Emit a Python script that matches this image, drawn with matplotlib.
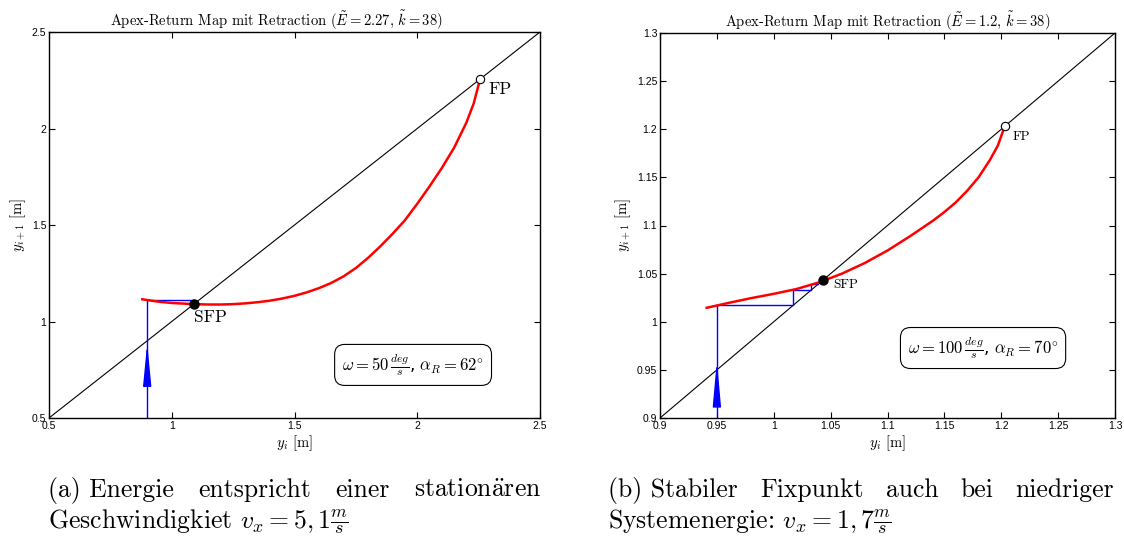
import matplotlib
matplotlib.use("Agg")
import matplotlib.pyplot as plt
from matplotlib.ticker import FuncFormatter

plt.rcParams['mathtext.fontset'] = 'cm'
plt.rcParams['axes.linewidth'] = 1.0

SERIF = ['cmr10', 'DejaVu Serif']
SANS = ['Liberation Sans', 'DejaVu Sans']

# ---- panel (a): E = 2.27 ----
a_x = [0.88, 0.95, 1.0, 1.09, 1.15, 1.2, 1.25, 1.3, 1.35, 1.4, 1.45, 1.5, 1.55, 1.6, 1.65,
       1.7, 1.75, 1.8, 1.85, 1.9, 1.95, 2.0, 2.05, 2.1, 2.15, 2.2, 2.23, 2.256]
a_y = [1.115, 1.102, 1.096, 1.09, 1.088, 1.088, 1.09, 1.094, 1.1, 1.108, 1.119, 1.133, 1.151,
       1.173, 1.2, 1.234, 1.277, 1.33, 1.39, 1.455, 1.525, 1.61, 1.70, 1.795, 1.90, 2.03, 2.13, 2.256]
a_sfp = (1.09, 1.09)
a_fp = (2.256, 2.256)
a_web_x = [0.9, 0.9, 1.09]
a_web_y = [0.5, 1.11, 1.11]
a_arrow = (0.9, 0.697, 0.889)       # x, base, tip
a_lim = (0.5, 2.5)
a_ticks = [0.5, 1.0, 1.5, 2.0, 2.5]
a_title = r'Apex-Return Map mit Retraction ($\tilde{E}=2.27$, $\tilde{k}=38$)'
a_box = r'$\omega=50\,\frac{deg}{s}$, $\alpha_R=62^{\circ}$'
a_box_pos = (1.983, 0.775)

# ---- panel (b): E = 1.2 ----
b_x = [0.941, 0.96, 0.98, 1.0, 1.02, 1.04, 1.06, 1.08, 1.1, 1.12, 1.14, 1.15, 1.16, 1.17,
       1.18, 1.19, 1.197, 1.203]
b_y = [1.0145, 1.0195, 1.0245, 1.029, 1.034, 1.041, 1.050, 1.061, 1.074, 1.089, 1.105, 1.114,
       1.124, 1.136, 1.150, 1.168, 1.183, 1.203]
b_sfp = (1.0435, 1.0435)
b_fp = (1.203, 1.203)
b_web_x = [0.95, 0.95, 1.017, 1.017, 1.033, 1.033, 1.039, 1.039, 1.041]
b_web_y = [0.9, 1.017, 1.017, 1.033, 1.033, 1.039, 1.039, 1.041, 1.041]
b_arrow = (0.95, 0.919, 0.960)
b_lim = (0.9, 1.3)
b_ticks = [0.9, 0.95, 1.0, 1.05, 1.1, 1.15, 1.2, 1.25, 1.3]
b_title = r'Apex-Return Map mit Retraction ($\tilde{E}=1.2$, $\tilde{k}=38$)'
b_box = r'$\omega=100\,\frac{deg}{s}$, $\alpha_R=70^{\circ}$'
b_box_pos = (1.184, 0.9727)

cap_a1 = [r'(a) Energie', 'entspricht', 'einer', r'station$\ddot{\mathrm{a}}$ren']
cap_a2 = r'Geschwindigkiet $v_x=5,1\frac{m}{s}$'
cap_b1 = [r'(b) Stabiler', 'Fixpunkt', 'auch', 'bei', 'niedriger']
cap_b2 = r'Systemenergie: $v_x=1,7\frac{m}{s}$'

fig = plt.figure(figsize=(11.24, 5.43), dpi=100)
ax_a = fig.add_axes([49/1124, 125/543, 491/1124, 386/543])
ax_b = fig.add_axes([660/1124, 125/543, 455/1124, 385/543])


def draw_panel(ax, cx, cy, sfp, fp, wx, wy, arrow, lim, ticks, title, box, box_pos,
               fp_off, sfp_off, lab_size, head_len, title_x):
    ax.plot(lim, lim, color='black', lw=0.8)
    ax.plot(wx, wy, color='blue', lw=1.0)
    ax.plot(cx, cy, color='red', lw=1.8, solid_joinstyle='round')
    ax.plot(*sfp, 'o', color='black', ms=6.5)
    ax.plot(*fp, 'o', mfc='white', mec='black', mew=0.8, ms=6)
    ax.annotate('', xy=(arrow[0], arrow[2]), xytext=(arrow[0], arrow[1]),
                arrowprops=dict(arrowstyle=f'-|>,head_length={head_len},head_width=2.5',
                                mutation_scale=1, color='blue', lw=1.0,
                                shrinkA=0, shrinkB=0))
    ax.annotate('FP', xy=fp, xytext=fp_off, textcoords='offset points',
                family=SERIF, fontsize=lab_size, ha='left', va='top')
    ax.annotate('SFP', xy=sfp, xytext=sfp_off, textcoords='offset points',
                family=SERIF, fontsize=lab_size, ha='left', va='top')
    ax.text(*box_pos, box, ha='center', va='center', fontsize=12,
            bbox=dict(boxstyle='round,pad=0.45,rounding_size=0.6', fc='white', ec='black', lw=0.8))
    ax.set_xlim(lim)
    ax.set_ylim(lim)
    ax.set_xticks(ticks)
    ax.set_yticks(ticks)
    fmt = FuncFormatter(lambda v, p: f'{v:g}')
    ax.xaxis.set_major_formatter(fmt)
    ax.yaxis.set_major_formatter(fmt)
    ax.tick_params(direction='in', top=True, right=True, length=4, width=0.8,
                   labelsize=7.5, pad=2)
    for lab in ax.get_xticklabels() + ax.get_yticklabels():
        lab.set_family(SANS)
    ax.set_title(title, family=SERIF, fontsize=10.5, pad=4, x=title_x)
    ax.set_xlabel(r'$y_i$ [m]', family=SERIF, fontsize=10.5, labelpad=2)
    ax.set_ylabel(r'$y_{i+1}$ [m]', family=SERIF, fontsize=10.5, labelpad=3)


draw_panel(ax_a, a_x, a_y, a_sfp, a_fp, a_web_x, a_web_y, a_arrow, a_lim, a_ticks,
           a_title, a_box, a_box_pos, (6, -2), (0, -4), 12.5, 26, 0.464)
draw_panel(ax_b, b_x, b_y, b_sfp, b_fp, b_web_x, b_web_y, b_arrow, b_lim, b_ticks,
           b_title, b_box, b_box_pos, (6, -3), (7, 1), 9.5, 28, 0.5)


def justified(words, x0, x1, y, **kw):
    texts = [fig.text(x0, y, w, ha='left', va='baseline', **kw) for w in words]
    fig.canvas.draw()
    r = fig.canvas.get_renderer()
    widths = [t.get_window_extent(r).width / fig.bbox.width for t in texts]
    gap = (x1 - x0 - sum(widths)) / (len(words) - 1)
    x = x0
    for t, w in zip(texts, widths):
        t.set_x(x)
        x += w + gap


cap_kw = dict(family=SERIF, fontsize=18.5)
justified(cap_a1, 48/1124, 541/1124, 1 - 497/543, **cap_kw)
fig.text(48/1124, 1 - 528/543, cap_a2, ha='left', va='baseline', **cap_kw)
justified(cap_b1, 608/1124, 1114/1124, 1 - 497/543, **cap_kw)
fig.text(608/1124, 1 - 528/543, cap_b2, ha='left', va='baseline', **cap_kw)

fig.savefig('out.png', dpi=100)
